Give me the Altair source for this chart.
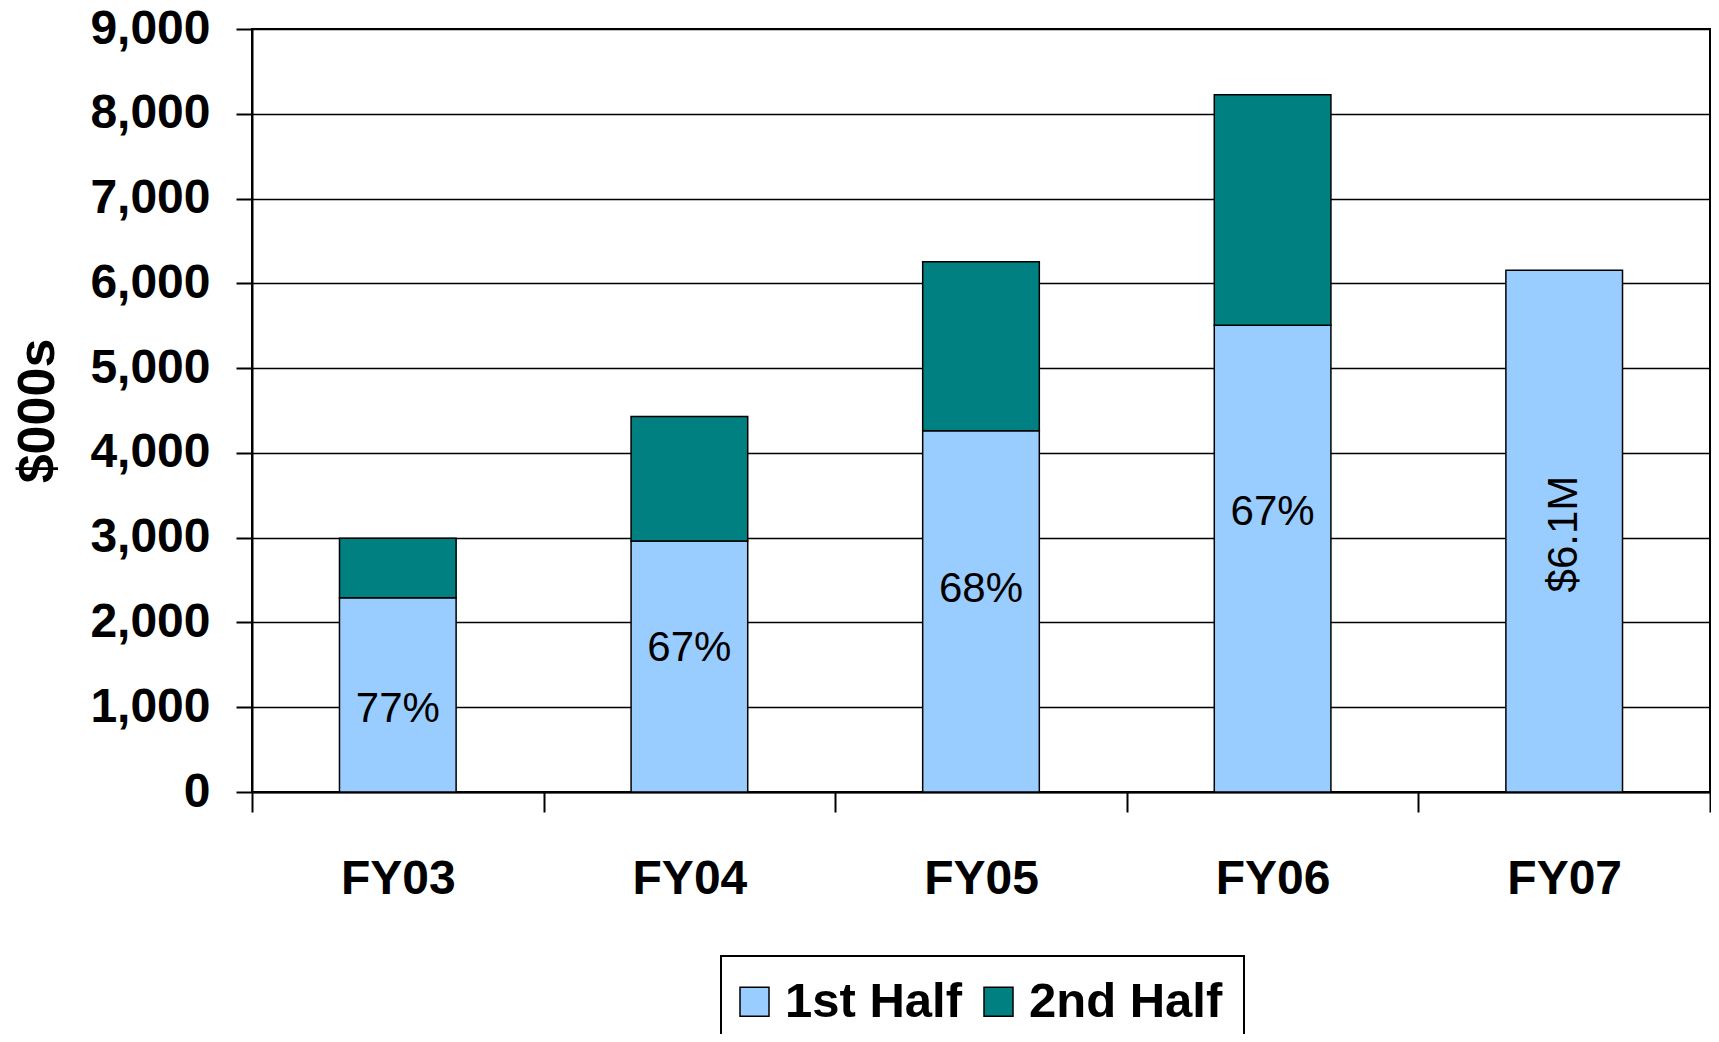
import altair as alt
import pandas as pd

# ---- data ----
years = ["FY03", "FY04", "FY05", "FY06", "FY07"]
first_half = [2290, 2960, 4262, 5505, 6153]
second_half = [702, 1470, 1994, 2720, None]
halves = ["1st Half", "2nd Half"]

pct_years = ["FY03", "FY04", "FY05", "FY06"]
pct_text = ["77%", "67%", "68%", "67%"]
pct_at = [976, 1696, 2397, 3302]

total_year = ["FY07"]
total_text = ["$6.1M"]
total_at = [3043]

y_ticks = [0, 1000, 2000, 3000, 4000, 5000, 6000, 7000, 8000, 9000]

rows = []
for yr, a, b in zip(years, first_half, second_half):
    rows.append({"year": yr, "half": halves[0], "value": a, "ord": 0})
    if b is not None:
        rows.append({"year": yr, "half": halves[1], "value": b, "ord": 1})
bars_df = pd.DataFrame(rows)
pct_df = pd.DataFrame({"year": pct_years, "text": pct_text, "pos": pct_at})
tot_df = pd.DataFrame({"year": total_year, "text": total_text, "pos": total_at})

FONT = "Liberation Sans"

xscale = alt.Scale(domain=years, paddingInner=0, paddingOuter=0)
yscale = alt.Scale(domain=[0, 9000], nice=False)

bars = alt.Chart(bars_df).mark_bar(
    stroke="black", strokeWidth=1.5, width=alt.RelativeBandSize(0.4)
).encode(
    x=alt.X("year:N", scale=xscale, title=None,
            axis=alt.Axis(labelAngle=0, labelFont=FONT, labelFontSize=48,
                          labelFontWeight="bold", labelColor="black",
                          labelPadding=43, tickSize=20, tickBand="extent",
                          tickColor="black", tickWidth=2, domainColor="black",
                          domainWidth=2, grid=False)),
    y=alt.Y("value:Q", stack="zero", scale=yscale, title="$000s",
            axis=alt.Axis(values=y_ticks, format=",d", labelFont=FONT,
                          labelFontSize=48, labelFontWeight="bold",
                          labelColor="black", labelPadding=26, tickSize=16,
                          tickColor="black", tickWidth=2, domainColor="black",
                          domainWidth=2, grid=True, gridColor="black",
                          gridWidth=1.5, titleFont=FONT, titleFontSize=52,
                          titleFontWeight="bold", titleColor="black",
                          titlePadding=25)),
    color=alt.Color("half:N",
                    scale=alt.Scale(domain=halves, range=["#99CCFF", "#008080"]),
                    legend=alt.Legend(orient="none", legendX=469, legendY=927,
                                      direction="horizontal", title=None,
                                      labelFont=FONT, labelFontSize=49,
                                      labelFontWeight="bold", labelColor="black",
                                      labelLimit=400, symbolType="square",
                                      symbolSize=841, symbolStrokeColor="black",
                                      symbolStrokeWidth=1.5, symbolOpacity=1,
                                      symbolOffset=-12,
                                      labelOffset=6, columnPadding=18,
                                      padding=21, strokeColor="black",
                                      fillColor="white")),
    order=alt.Order("ord:Q"),
)

pct = alt.Chart(pct_df).mark_text(font=FONT, fontSize=42, color="black",
                                  baseline="middle", align="center").encode(
    x=alt.X("year:N", scale=xscale),
    y=alt.Y("pos:Q", scale=yscale),
    text="text:N",
)

tot = alt.Chart(tot_df).mark_text(font=FONT, fontSize=42, color="black",
                                  baseline="middle", align="center",
                                  angle=270).encode(
    x=alt.X("year:N", scale=xscale),
    y=alt.Y("pos:Q", scale=yscale),
    text="text:N",
)

chart = alt.layer(bars, pct, tot).properties(
    width=1458, height=763,
    autosize=alt.AutoSizeParams(type="none"),
    padding={"left": 244, "top": 21, "right": 1, "bottom": 242},
).configure_view(stroke="black", strokeWidth=2).configure_legend(
    strokeWidth=2
)

chart.save("out.html", embed_options={"renderer": "svg", "actions": False})
